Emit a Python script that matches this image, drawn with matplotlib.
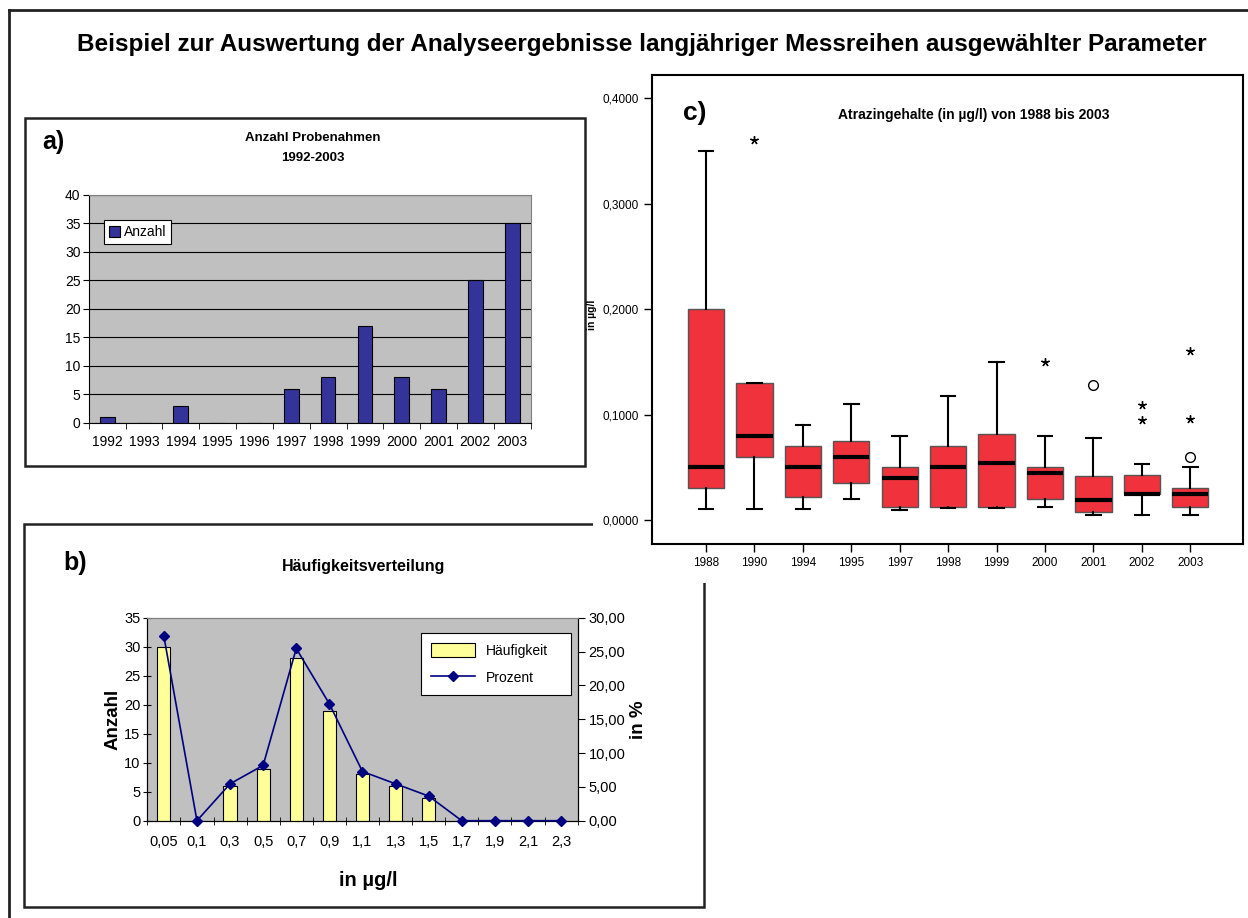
import matplotlib
matplotlib.use("Agg")
import matplotlib.pyplot as plt
from matplotlib.patches import Rectangle
from matplotlib.lines import Line2D
from matplotlib.ticker import FuncFormatter

plt.rcParams['font.family'] = ['Liberation Sans', 'DejaVu Sans']

# Panel a: Anzahl Probenahmen
years_a = ['1992', '1993', '1994', '1995', '1996', '1997', '1998', '1999', '2000', '2001', '2002', '2003']
anzahl = [1, 0, 3, 0, 0, 6, 8, 17, 8, 6, 25, 35]

# Panel b: Häufigkeitsverteilung
klassen = ['0,05', '0,1', '0,3', '0,5', '0,7', '0,9', '1,1', '1,3', '1,5', '1,7', '1,9', '2,1', '2,3']
haeufigkeit = [30, 0, 6, 9, 28, 19, 8, 6, 4, 0, 0, 0, 0]
prozent = [27.27, 0, 5.45, 8.18, 25.45, 17.27, 7.27, 5.45, 3.64, 0, 0, 0, 0]

# Panel c: Atrazingehalte boxplots
years_c = ['1988', '1990', '1994', '1995', '1997', '1998', '1999', '2000', '2001', '2002', '2003']
whis_lo = [0.010, 0.010, 0.010, 0.020, 0.0095, 0.011, 0.011, 0.012, 0.005, 0.005, 0.005]
q1 = [0.030, 0.060, 0.022, 0.035, 0.012, 0.012, 0.012, 0.020, 0.008, 0.025, 0.012]
median = [0.050, 0.080, 0.050, 0.060, 0.040, 0.050, 0.054, 0.045, 0.019, 0.025, 0.025]
q3 = [0.200, 0.130, 0.070, 0.075, 0.050, 0.070, 0.082, 0.050, 0.042, 0.043, 0.030]
whis_hi = [0.350, 0.130, 0.090, 0.110, 0.080, 0.118, 0.150, 0.080, 0.078, 0.053, 0.050]
stern_jahr = ['1990', '2000', '2002', '2002', '2003', '2003']
stern_wert = [0.360, 0.150, 0.109, 0.095, 0.160, 0.096]
kreis_jahr = ['2001', '2003']
kreis_wert = [0.128, 0.060]

W, H = 1248, 918
fig = plt.figure(figsize=(W / 100, H / 100), dpi=100)


def box(left, top, right, bottom):
    # pixel box -> figure axes rect
    return [left / W, 1 - bottom / H, (right - left) / W, (bottom - top) / H]


def frame(left, top, right, bottom, z=1):
    r = Rectangle((left / W, 1 - bottom / H), (right - left) / W, (bottom - top) / H,
                  transform=fig.transFigure, fill=False, lw=1.8, edgecolor='#222222', zorder=z)
    fig.patches.append(r)


# outer frame (left and top visible)
fig.lines.append(Line2D([9 / W, 9 / W], [0, 1 - 10 / H], transform=fig.transFigure, color='#222222', lw=2))
fig.lines.append(Line2D([9 / W, 1], [1 - 10 / H, 1 - 10 / H], transform=fig.transFigure, color='#222222', lw=2))

fig.text(642 / W, 1 - 45 / H,
         'Beispiel zur Auswertung der Analyseergebnisse langjähriger Messreihen ausgewählter Parameter',
         ha='center', va='center', fontsize=17.5, fontweight='bold')

# ---------------- panel a ----------------
frame(25, 118, 585, 466)
ax_a = fig.add_axes(box(88.8, 195, 530.6, 423))
ax_a.set_facecolor('#C0C0C0')
xa = range(len(years_a))
ax_a.bar(xa, anzahl, width=0.4, color='#333399', edgecolor='black', lw=0.8, zorder=3, label='Anzahl')
ax_a.set_xlim(-0.5, len(years_a) - 0.5)
ax_a.set_ylim(0, 40)
ax_a.set_yticks(range(0, 41, 5))
ax_a.set_xticks(list(xa))
ax_a.set_xticklabels(years_a)
ax_a.set_xticks([i - 0.5 for i in range(len(years_a) + 1)], minor=True)
ax_a.tick_params(axis='x', which='major', length=0, pad=9, labelsize=10)
ax_a.tick_params(axis='x', which='minor', length=4, direction='out')
ax_a.tick_params(axis='y', length=4, direction='out', labelsize=10, pad=2)
ax_a.grid(axis='y', color='black', lw=0.8, zorder=1)
ax_a.set_axisbelow(True)
for s in ['top', 'right']:
    ax_a.spines[s].set_color('#808080')
leg = ax_a.legend(loc='lower left', bbox_to_anchor=(0.034, 0.785), borderaxespad=0, fancybox=False,
                  edgecolor='black', framealpha=1, fontsize=10, handlelength=0.8, handleheight=0.8,
                  handletextpad=0.3, borderpad=0.35)
leg.get_frame().set_linewidth(0.8)
fig.text(53 / W, 1 - 142 / H, 'a)', ha='center', va='center', fontsize=18, fontweight='bold')
fig.text(313 / W, 1 - 138 / H, 'Anzahl Probenahmen', ha='center', va='center', fontsize=9.5, fontweight='bold')
fig.text(313 / W, 1 - 158 / H, '1992-2003', ha='center', va='center', fontsize=9.5, fontweight='bold')

# ---------------- panel b ----------------
frame(24, 524, 704, 907)
ax_b = fig.add_axes(box(147.3, 617.7, 577.6, 820.7))
ax_b.set_facecolor('#C0C0C0')
xb = range(len(klassen))
bars = ax_b.bar(xb, haeufigkeit, width=0.4, color='#FFFF99', edgecolor='black', lw=0.8, zorder=3,
                label='Häufigkeit')
ax_b.set_xlim(-0.5, len(klassen) - 0.5)
ax_b.set_ylim(0, 35)
ax_b.set_yticks(range(0, 36, 5))
ax_b.set_xticks(list(xb))
ax_b.set_xticklabels(klassen)
ax_b.set_xticks([i - 0.5 for i in range(len(klassen) + 1)], minor=True)
ax_b.tick_params(axis='x', which='major', length=0, pad=10, labelsize=10.5)
ax_b.tick_params(axis='x', which='minor', length=6, direction='inout')
ax_b.tick_params(axis='y', length=6, direction='inout', labelsize=10.5, pad=2)
ax_b.spines['top'].set_color('#808080')
ax_b.set_ylabel('Anzahl', fontsize=13.5, fontweight='bold', labelpad=2)

ax_b2 = ax_b.twinx()
line, = ax_b2.plot(xb, prozent, color='#000080', marker='D', markersize=5, lw=1.2, label='Prozent',
                   clip_on=False, zorder=4)
ax_b2.set_ylim(0, 30)
ax_b2.set_yticks(range(0, 31, 5))
ax_b2.yaxis.set_major_formatter(FuncFormatter(lambda v, p: f'{v:.2f}'.replace('.', ',')))
ax_b2.tick_params(axis='y', length=5, direction='out', labelsize=10.5, pad=3)
ax_b2.spines['top'].set_color('#808080')
ax_b2.set_ylabel('in %', fontsize=13.5, fontweight='bold', labelpad=3)
leg_b = ax_b2.legend([bars, line], ['Häufigkeit', 'Prozent'], loc='lower left',
                     bbox_to_anchor=(0.636, 0.619, 0.349, 0.291), mode='expand', borderaxespad=0,
                     fancybox=False, edgecolor='black', framealpha=1, fontsize=10, handlelength=3.2,
                     handleheight=1.2, labelspacing=0.9, borderpad=0.7)
leg_b.get_frame().set_linewidth(0.8)
fig.text(75 / W, 1 - 563 / H, 'b)', ha='center', va='center', fontsize=18, fontweight='bold')
fig.text(364 / W, 1 - 567 / H, 'Häufigkeitsverteilung', ha='center', va='center', fontsize=11.5,
         fontweight='bold')
fig.text(368 / W, 1 - 880 / H, 'in µg/l', ha='center', va='center', fontsize=14.5, fontweight='bold')

# ---------------- panel c ----------------
cover = Rectangle((593 / W, 1 - 583 / H), 1 - 593 / W, (583 - 62) / H, transform=fig.transFigure,
                  facecolor='white', edgecolor='none', zorder=4)
fig.patches.append(cover)
ax_c = fig.add_axes(box(651.8, 75, 1242.6, 544))
ax_c.set_zorder(5)
stats = []
for i, y in enumerate(years_c):
    stats.append(dict(med=median[i], q1=q1[i], q3=q3[i], whislo=whis_lo[i], whishi=whis_hi[i],
                      fliers=[], label=y))
xc = list(range(len(years_c)))
ax_c.bxp(stats, positions=xc, widths=0.75, capwidths=0.3, patch_artist=True, showfliers=False,
         boxprops=dict(facecolor='#EF323C', edgecolor='#555555', lw=1.0),
         medianprops=dict(color='black', lw=3),
         whiskerprops=dict(color='black', lw=1.5),
         capprops=dict(color='black', lw=1.5))
ax_c.plot([years_c.index(y) for y in stern_jahr], stern_wert, ls='none', marker=(5, 2, 0),
          markersize=6, color='black', mew=1)
ax_c.plot([years_c.index(y) for y in kreis_jahr], kreis_wert, ls='none', marker='o',
          markersize=7, mfc='none', mec='black', mew=1)
ax_c.set_xlim(-1.12, 11.08)
ax_c.set_ylim(-0.0228, 0.4221)
ax_c.set_yticks([0, 0.1, 0.2, 0.3, 0.4])
ax_c.yaxis.set_major_formatter(FuncFormatter(lambda v, p: f'{v:.4f}'.replace('.', ',')))
ax_c.set_xticks(xc)
ax_c.set_xticklabels(years_c)
ax_c.tick_params(axis='both', length=6, direction='out', labelsize=8.5, width=1)
for s in ax_c.spines.values():
    s.set_linewidth(1.5)
ax_c.text(0.073, 0.92, 'c)', transform=ax_c.transAxes, ha='center', va='center', fontsize=19,
          fontweight='bold')
ax_c.text(0.545, 0.915, 'Atrazingehalte (in µg/l) von 1988 bis 2003', transform=ax_c.transAxes,
          ha='center', va='center', fontsize=10, fontweight='bold')
fig.text(592 / W, 1 - 315 / H, 'in µg/l', rotation=90, ha='center', va='center', fontsize=7.5,
         fontweight='bold', zorder=6)

fig.savefig('out.png', dpi=100)
